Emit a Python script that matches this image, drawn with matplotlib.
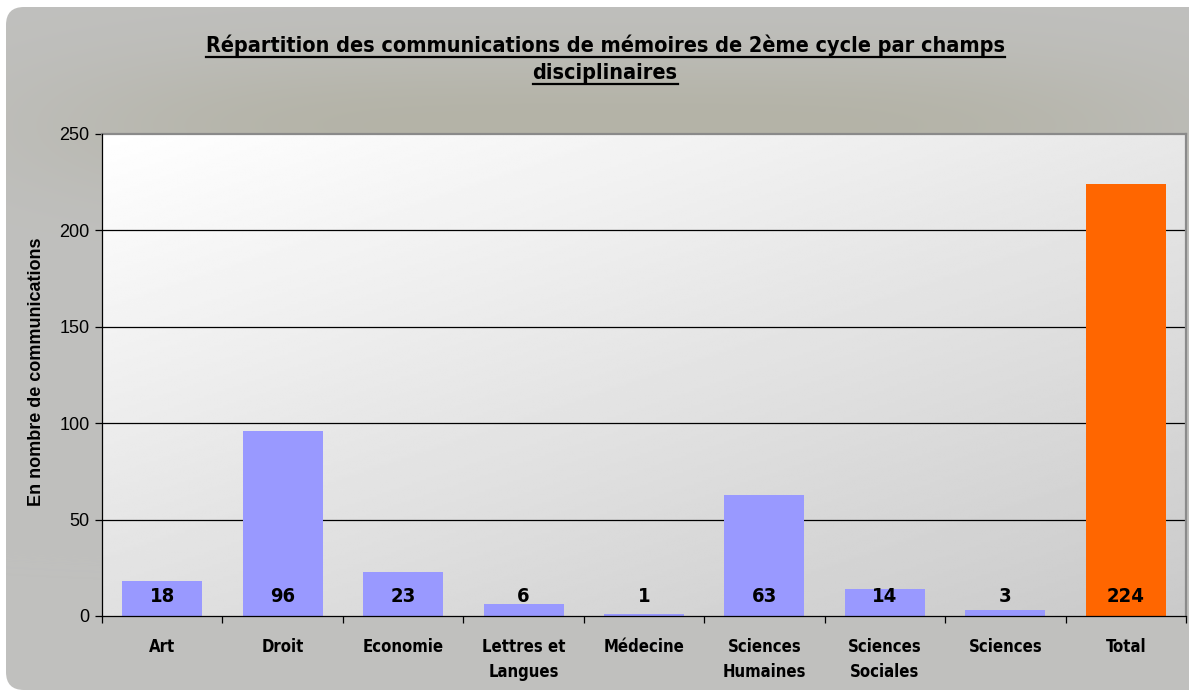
import numpy as np
import matplotlib
matplotlib.use("Agg")
import matplotlib.pyplot as plt
from matplotlib.patches import FancyBboxPatch
from matplotlib.lines import Line2D

categories = ["Art", "Droit", "Economie", "Lettres et\nLangues", "Médecine",
              "Sciences\nHumaines", "Sciences\nSociales", "Sciences", "Total"]
values = [18, 96, 23, 6, 1, 63, 14, 3, 224]
bar_colors = ["#9999FF"] * 8 + ["#FF6600"]
title_lines = ["Répartition des communications de mémoires de 2ème cycle par champs",
               "disciplinaires"]
ylabel_text = "En nombre de communications"
yticks = [0, 50, 100, 150, 200, 250]

W, H = 1189, 695
fig = plt.figure(figsize=(W / 100, H / 100), dpi=100)
fig.patch.set_facecolor("white")

# background panel
bg = fig.add_axes([0, 0, 1, 1])
bg.set_xlim(0, W)
bg.set_ylim(H, 0)
bg.axis("off")
yy, xx = np.mgrid[0:H, 0:W]
base = np.array([192, 192, 190]) / 255.0
tint = np.array([180, 179, 167]) / 255.0
g = np.exp(-(((xx - 620) / 560.0) ** 4 + ((yy - 125) / 75.0) ** 2))
img = base[None, None, :] * (1 - g[..., None]) + tint[None, None, :] * g[..., None]
panel = FancyBboxPatch((6, 7), 1250, 683, boxstyle="round,pad=0,rounding_size=18",
                       transform=bg.transData, facecolor="none", edgecolor="none")
bg.add_patch(panel)
im = bg.imshow(img, extent=[0, W, H, 0], interpolation="bilinear")
im.set_clip_path(panel)

# main axes
ax = fig.add_axes([102 / W, 1 - 616 / H, (1186 - 102) / W, (616 - 134) / H])
n = len(categories)

# plot-area gradient (top-left white -> bottom-right gray)
gy, gx = np.mgrid[0:1:200j, 0:1:400j]
shade = 1.0 - 0.09 * gx - 0.12 * gy
ax.imshow(shade, extent=[-0.5, n - 0.5, 0, 250], origin="upper", aspect="auto",
          cmap="gray", vmin=0, vmax=1, zorder=0, interpolation="bilinear")
ax.set_xlim(-0.5, n - 0.5)
ax.set_ylim(0, 250)

x = np.arange(n)
ax.bar(x, values, width=0.665, color=bar_colors, zorder=3)

for xi, v in zip(x, values):
    ax.annotate(str(v), (xi, 0), xytext=(0, 7), textcoords="offset points",
                ha="center", va="bottom", fontsize=14.5, fontweight="bold",
                family="DejaVu Sans", fontstretch="condensed", zorder=4)

for yv in yticks[1:-1]:
    ax.axhline(yv, color="black", lw=0.9, zorder=1)

for s in ["top", "right"]:
    ax.spines[s].set_color("#8a8a8a")
    ax.spines[s].set_linewidth(1.6)
for s in ["left", "bottom"]:
    ax.spines[s].set_color("black")
    ax.spines[s].set_linewidth(0.9)
    ax.spines[s].set_zorder(5)

ax.set_yticks(yticks)
ax.set_yticklabels([str(t) for t in yticks], family="Liberation Sans", fontsize=13)
ax.tick_params(axis="y", direction="out", length=5, width=0.9, pad=4)

ax.set_xticks(np.arange(-0.5, n), minor=False)
ax.set_xticklabels([])
ax.tick_params(axis="x", which="major", direction="out", length=5, width=0.9)
ax.set_xticks(x, minor=True)
ax.set_xticklabels(categories, minor=True, fontsize=12, fontweight="bold",
                   family="DejaVu Sans", fontstretch="condensed", linespacing=1.5)
ax.tick_params(axis="x", which="minor", length=0, pad=16)

fig.text(37 / W, 1 - 372 / H, ylabel_text, rotation=90, ha="center", va="center",
         fontsize=13, fontweight="bold", family="Liberation Sans")

# title with underline
fig.canvas.draw()
r = fig.canvas.get_renderer()
ybase = [1 - 52 / H, 1 - 79 / H]
for ln, yb in zip(title_lines, ybase):
    tt = fig.text(605 / W, yb, ln, ha="center", va="baseline", fontsize=15.5,
                  fontweight="bold", family="DejaVu Sans", fontstretch="condensed")
    e = tt.get_window_extent(r)
    yl = yb - 4.5 / H
    fig.add_artist(Line2D([e.x0 / W, e.x1 / W], [yl, yl], color="black", lw=1.6,
                          transform=fig.transFigure))

fig.savefig("out.png", dpi=100)
